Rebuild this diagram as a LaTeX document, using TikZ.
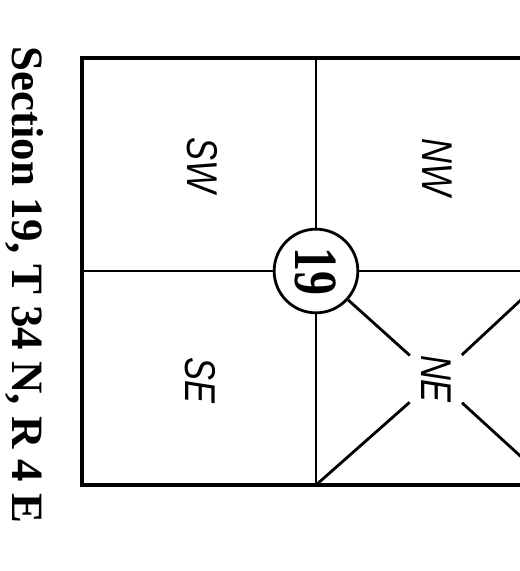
\documentclass[tikz,border=0pt]{standalone}
\usepackage{fontspec}
\setmainfont{Liberation Serif}
\setsansfont{Liberation Sans}
\usepackage{graphicx}
\usetikzlibrary{calc}
\newcommand{\quarterLabel}[1]{\scalebox{0.8}[1]{\sffamily\itshape #1}}

\begin{document}
\begin{tikzpicture}[x=0.02cm, y=-0.02cm,
    border/.style={line width=2.1pt},
    grid line/.style={line width=1.6pt},
    quarter/.style={rotate=-90, anchor=base, inner sep=0pt, font=\fontsize{24.5}{28}\selectfont},
    gap/.style={circle, fill=white, minimum size=70*0.567pt, inner sep=0pt, rotate=-90, font=\fontsize{24.5}{28}\selectfont}]
  \useasboundingbox (0,0) rectangle (520,571);
  \clip (0,0) rectangle (520,571);
  % section corners and mid points
  \coordinate (tl) at (82,58);
  \coordinate (br) at (552,485);
  \coordinate (tm) at (316,58);
  \coordinate (bm) at (316,485);
  \coordinate (lm) at (82,271);
  \coordinate (rm) at (552,271);
  \draw[border] (tl) rectangle (br);
  \node[circle, draw, line width=1.6pt, fill=white, minimum size=84*0.567pt, inner sep=0pt] (c19) at (316,271)
    {\rotatebox{-90}{\scalebox{0.78}[1]{\fontsize{35}{38}\selectfont\bfseries 19}}};
  \draw[grid line] (tm) -- (c19);
  \draw[grid line] (c19) -- (bm);
  \draw[grid line] (lm) -- (c19);
  \draw[grid line] (c19) -- (rm);
  % quarter labels
  \node[quarter] (sw) at (187,165) {\quarterLabel{SW}};
  \node[quarter] (nw) at (422,167) {\quarterLabel{NW}};
  \node[quarter] (se) at (185,380) {\quarterLabel{SE}};
  \node[gap] (ne) at (436,379) {\quarterLabel{NE}};
  \draw[grid line] (c19) -- (ne);
  \draw[grid line] (ne) -- (br);
  \draw[grid line] (bm) -- (ne);
  \draw[grid line] (ne) -- (rm);
  % title
  \node[rotate=-90, anchor=base, inner sep=0pt, font=\fontsize{25.5}{30}\selectfont\bfseries] (title) at (12,285)
    {Section 19, T 34 N, R 4 E};
\end{tikzpicture}
\end{document}
